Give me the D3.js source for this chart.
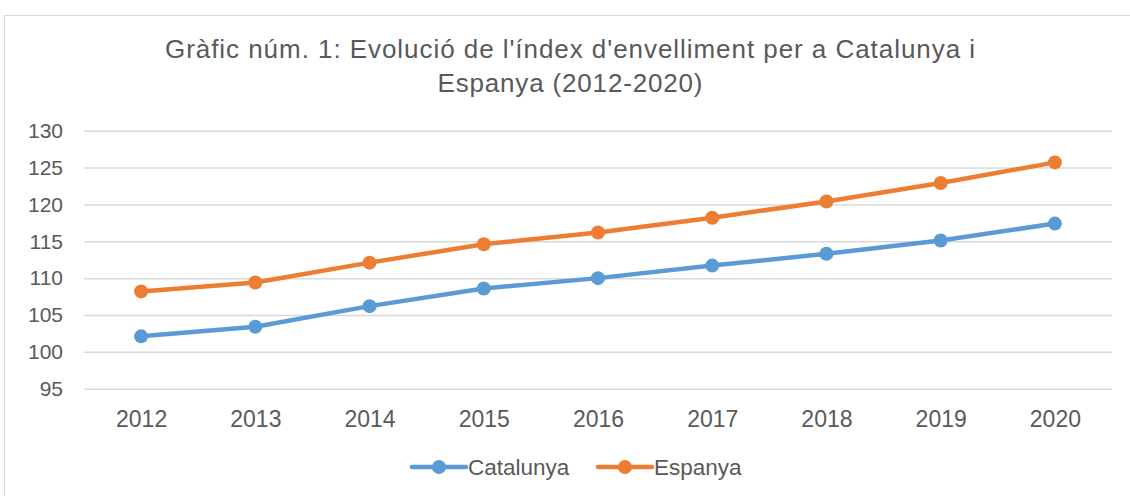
<!DOCTYPE html>
<html><head><meta charset="utf-8">
<script src="https://cdn.jsdelivr.net/npm/d3@7"></script>
<style>body{margin:0;background:#fff}svg{display:block}text{font-family:"Liberation Sans",Arial,sans-serif}</style>
</head><body><svg id="c" width="1130" height="496"></svg>
<script>
const years = ["2012","2013","2014","2015","2016","2017","2018","2019","2020"];
const catalunya = [102.1, 103.4, 106.2, 108.6, 110.0, 111.7, 113.3, 115.1, 117.4];
const espanya = [108.2, 109.4, 112.1, 114.6, 116.2, 118.2, 120.4, 122.9, 125.7];
const yTicks = [95, 100, 105, 110, 115, 120, 125, 130];
const titleLines = ["Gràfic núm. 1: Evolució de l'índex d'envelliment per a Catalunya i", "Espanya (2012-2020)"];
const seriesNames = ["Catalunya", "Espanya"];
const colors = ["#5B9BD5", "#ED7D31"];

const svg = d3.select("#c");
svg.append("rect").attr("x",4.5).attr("y",15.5).attr("width",1140).attr("height",500)
  .attr("fill","#fff").attr("stroke","#d9d9d9").attr("stroke-width",1);

const L = 84, R = 1112, T = 130.7, B = 388.7;
const x = d3.scalePoint().domain(years).range([L, R]).padding(0.5);
const y = d3.scaleLinear().domain([95, 130]).range([B, T]);

const titleW = [810, 265];
svg.selectAll("text.title").data(titleLines).join("text")
  .attr("x", 570).attr("y", (d,i)=>57.5 + i*34.5).attr("text-anchor","middle")
  .attr("font-size", 26).attr("fill","#595959")
  .attr("textLength",(d,i)=>titleW[i]).attr("lengthAdjust","spacing").text(d=>d);

// grid
const yAxis = d3.axisLeft(y).tickValues(yTicks).tickSize(-(R-L)).tickPadding(21);
const gy = svg.append("g").attr("transform",`translate(${L},0)`).call(yAxis);
gy.select(".domain").remove();
gy.selectAll("line").attr("stroke","#d9d9d9").attr("stroke-width",1.5);
gy.selectAll("text").attr("font-size",21).attr("fill","#595959").attr("font-family","Liberation Sans, Arial, sans-serif");

const xAxis = d3.axisBottom(x).tickSize(0).tickPadding(21.5);
const gx = svg.append("g").attr("transform",`translate(0,${B})`).call(xAxis);
gx.select(".domain").remove();
gx.selectAll("text").attr("font-size",23).attr("fill","#595959").attr("font-family","Liberation Sans, Arial, sans-serif");

const data = [catalunya, espanya];
const line = d3.line().x((d,i)=>x(years[i])).y(d=>y(d));
data.forEach((s,k)=>{
  svg.append("path").datum(s).attr("d",line).attr("fill","none")
    .attr("stroke",colors[k]).attr("stroke-width",4.5).attr("stroke-linejoin","round").attr("stroke-linecap","round");
  svg.selectAll(null).data(s).join("circle")
    .attr("cx",(d,i)=>x(years[i])).attr("cy",d=>y(d)).attr("r",7).attr("fill",colors[k]);
});

// legend
const legX = [412, 598];
seriesNames.forEach((n,k)=>{
  const g = svg.append("g").attr("transform",`translate(${legX[k]},467)`);
  g.append("line").attr("x1",0).attr("x2",54).attr("stroke",colors[k]).attr("stroke-width",4.5).attr("stroke-linecap","round");
  g.append("circle").attr("cx",27).attr("r",7).attr("fill",colors[k]);
  g.append("text").attr("x",56).attr("y",8).attr("font-size",22.5).attr("fill","#595959").text(n);
});
</script></body></html>
